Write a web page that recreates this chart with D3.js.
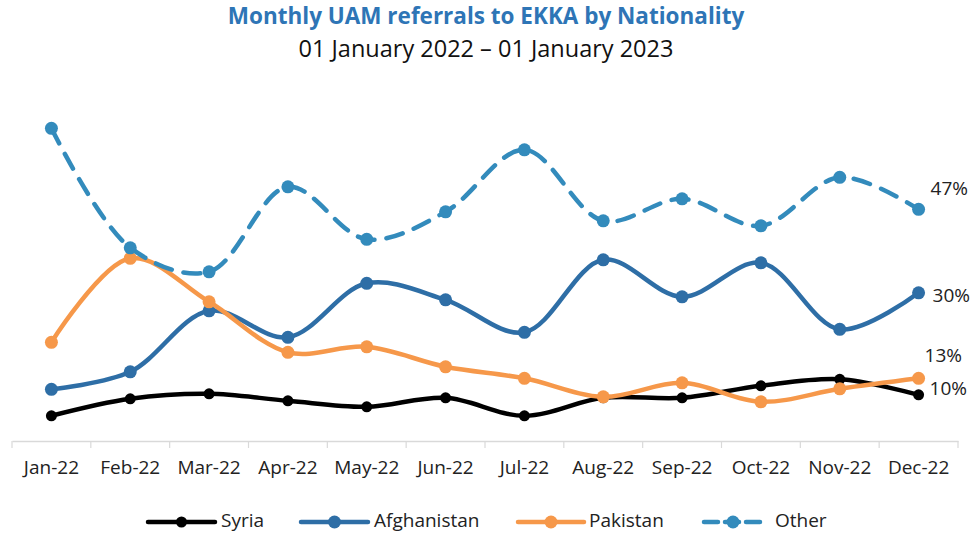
<!DOCTYPE html>
<html>
<head>
<meta charset="utf-8">
<script src="https://cdn.jsdelivr.net/npm/d3@7"></script>
<style>
  body { margin: 0; background: #fff; }
  text { font-family: "Open Sans", "Noto Sans", sans-serif; }
</style>
</head>
<body>
<div id="chart"></div>
<script>
// data (share of monthly referrals, %)
const months = ["Jan-22","Feb-22","Mar-22","Apr-22","May-22","Jun-22","Jul-22","Aug-22","Sep-22","Oct-22","Nov-22","Dec-22"];
const syria       = [5.6, 9.0, 10.0, 8.6, 7.4, 9.2, 5.6, 9.2, 9.2, 11.6, 12.9, 9.8];
const afghanistan = [10.9, 14.4, 26.6, 21.3, 32.1, 28.8, 22.3, 36.8, 29.4, 36.2, 22.9, 30.2];
const pakistan    = [20.3, 37.1, 28.4, 18.3, 19.4, 15.4, 13.1, 9.4, 12.2, 8.4, 11.0, 13.1];
const other       = [63.1, 39.2, 34.4, 51.4, 40.9, 46.4, 58.8, 44.6, 49.0, 43.6, 53.3, 46.9];
const endLabels   = ["10%", "30%", "13%", "47%"];

const width = 979, height = 548;
const svg = d3.select("#chart").append("svg")
    .attr("width", width)
    .attr("height", height);

const x = d3.scaleBand().domain(months).range([12, 958]);
const y = d3.scaleLinear().domain([0, 70]).range([443.8, 93.8]);

const series = [
    { name: "Syria", values: syria, color: "#000000", r: 5.5, dash: null, label: endLabels[0], dx: 11, dy: -5 },
    { name: "Afghanistan", values: afghanistan, color: "#2e6ea6", r: 6.5, dash: null, label: endLabels[1], dx: 14, dy: 4 },
    { name: "Pakistan", values: pakistan, color: "#f6984a", r: 6.5, dash: null, label: endLabels[2], dx: 6, dy: -21 },
    { name: "Other", values: other, color: "#338bbc", r: 6.5, dash: "17,12", label: endLabels[3], dx: 12, dy: -19 }
];

// title
svg.append("text")
    .attr("x", 486).attr("y", 24)
    .attr("text-anchor", "middle")
    .attr("fill", "#2e75b6")
    .style("font-size", "22.5px")
    .style("font-weight", "bold")
    .text("Monthly UAM referrals to EKKA by Nationality");
svg.append("text")
    .attr("x", 486).attr("y", 57)
    .attr("text-anchor", "middle")
    .attr("fill", "#111")
    .style("font-size", "23.5px")
    .text("01 January 2022 \u2013 01 January 2023");

// x axis
const xAxis = svg.append("g")
    .attr("transform", "translate(0,441)")
    .call(d3.axisBottom(x).tickSize(0).tickPadding(20));
xAxis.select(".domain").attr("stroke", "#d9d9d9").attr("stroke-width", 1.5);
xAxis.selectAll("text")
    .style("font-size", "19px")
    .style("font-family", "'Open Sans', sans-serif")
    .attr("fill", "#222");
// dividers between categories
svg.append("g").selectAll("line")
    .data(months.concat(["end"]))
    .join("line")
    .attr("x1", (d, i) => x.range()[0] + i * x.step())
    .attr("x2", (d, i) => x.range()[0] + i * x.step())
    .attr("y1", 441).attr("y2", 448)
    .attr("stroke", "#d9d9d9").attr("stroke-width", 1.2);

const line = d3.line()
    .x((d, i) => x(months[i]) + x.bandwidth() / 2)
    .y(d => y(d))
    .curve(d3.curveCatmullRom.alpha(0.5));

const g = svg.append("g");
series.forEach(s => {
    g.append("path")
        .datum(s.values)
        .attr("d", line)
        .attr("fill", "none")
        .attr("stroke", s.color)
        .attr("stroke-width", 4.5)
        .attr("stroke-linecap", "round")
        .attr("stroke-dasharray", s.dash);
    g.selectAll(null)
        .data(s.values)
        .join("circle")
        .attr("cx", (d, i) => x(months[i]) + x.bandwidth() / 2)
        .attr("cy", d => y(d))
        .attr("r", s.r)
        .attr("fill", s.color);
    const last = s.values[s.values.length - 1];
    g.append("text")
        .attr("x", x(months[11]) + x.bandwidth() / 2 + s.dx)
        .attr("y", y(last) + s.dy)
        .attr("dominant-baseline", "middle")
        .attr("fill", "#222")
        .style("font-size", "19px")
        .text(s.label);
});

// legend
const legendItems = [
    { x1: 148, x2: 215, tx: 221 },
    { x1: 301, x2: 368, tx: 374 },
    { x1: 518, x2: 584, tx: 589 },
    { x1: 704, x2: 762, tx: 775 }
];
const legend = svg.append("g");
series.forEach((s, i) => {
    const it = legendItems[i];
    legend.append("line")
        .attr("x1", it.x1).attr("x2", it.x2)
        .attr("y1", 522).attr("y2", 522)
        .attr("stroke", s.color)
        .attr("stroke-width", 4.5)
        .attr("stroke-linecap", "round")
        .attr("stroke-dasharray", s.dash ? "14,7" : null);
    legend.append("circle")
        .attr("cx", (it.x1 + it.x2) / 2).attr("cy", 522)
        .attr("r", s.r).attr("fill", s.color);
    legend.append("text")
        .attr("x", it.tx).attr("y", 522)
        .attr("dominant-baseline", "middle")
        .attr("fill", "#222")
        .style("font-size", "19px")
        .text(s.name);
});
</script>
</body>
</html>
